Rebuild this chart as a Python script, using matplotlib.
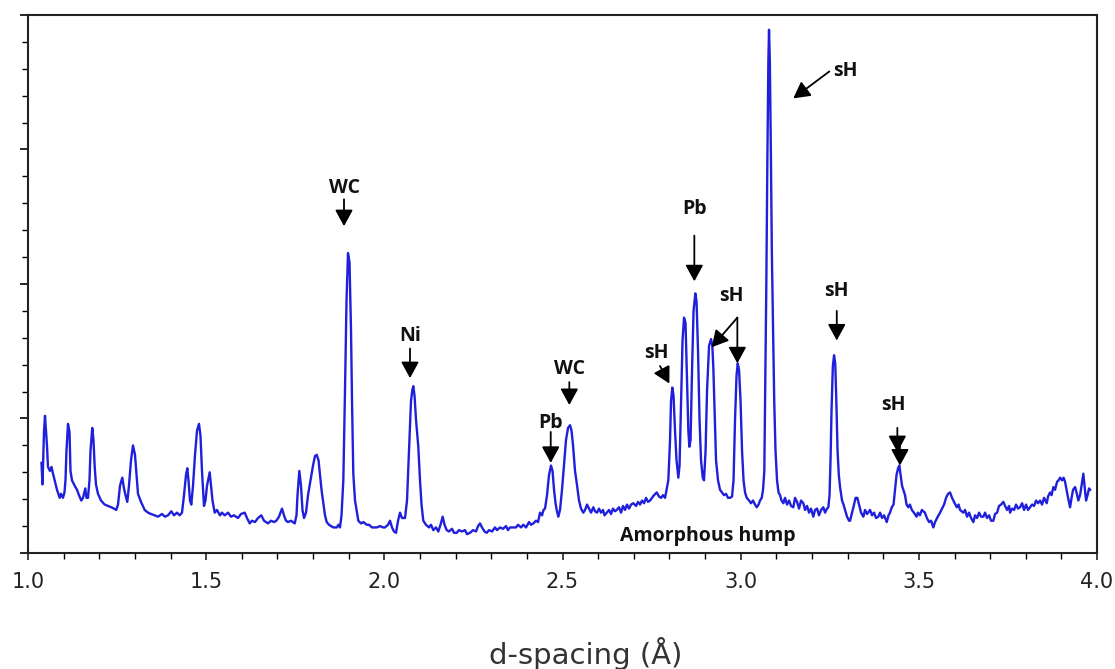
import matplotlib
matplotlib.use("Agg")
import matplotlib.pyplot as plt
from matplotlib.ticker import MultipleLocator, NullFormatter

# Diffraction pattern: d-spacing (Å) and intensity (arbitrary units)
d_spacing = [
    1.0379, 1.0407, 1.0449, 1.0477, 1.0505, 1.0533, 1.0561, 1.0617, 1.0660, 1.0702,
    1.0758, 1.0814, 1.0890, 1.0926, 1.0982, 1.1024, 1.1052, 1.1080, 1.1123, 1.1165,
    1.1193, 1.1235, 1.1311, 1.1375, 1.1431, 1.1496, 1.1544, 1.1608, 1.1642, 1.1684,
    1.1726, 1.1754, 1.1804, 1.1838, 1.1872, 1.1908, 1.1964, 1.2049, 1.2152, 1.2245,
    1.2338, 1.2413, 1.2478, 1.2526, 1.2582, 1.2646, 1.2694, 1.2736, 1.2787, 1.2834,
    1.2891, 1.2947, 1.3003, 1.3045, 1.3087, 1.3171, 1.3275, 1.3368, 1.3452, 1.3556,
    1.3648, 1.3761, 1.3845, 1.3929, 1.4022, 1.4097, 1.4182, 1.4257, 1.4322, 1.4378,
    1.4434, 1.4471, 1.4504, 1.4546, 1.4583, 1.4631, 1.4687, 1.4743, 1.4799, 1.4841,
    1.4883, 1.4939, 1.4981, 1.5023, 1.5099, 1.5136, 1.5178, 1.5240, 1.5304, 1.5388,
    1.5444, 1.5520, 1.5613, 1.5697, 1.5781, 1.5893, 1.5978, 1.6081, 1.6146, 1.6222,
    1.6286, 1.6371, 1.6455, 1.6547, 1.6623, 1.6735, 1.6820, 1.6904, 1.6968, 1.7044,
    1.7128, 1.7184, 1.7241, 1.7297, 1.7381, 1.7485, 1.7535, 1.7563, 1.7614, 1.7661,
    1.7703, 1.7746, 1.7802, 1.7858, 1.7942, 1.7998, 1.8054, 1.8102, 1.8153, 1.8195,
    1.8237, 1.8287, 1.8335, 1.8383, 1.8447, 1.8503, 1.8573, 1.8663, 1.8714, 1.8756,
    1.8798, 1.8849, 1.8896, 1.8938, 1.8980, 1.9023, 1.9065, 1.9093, 1.9129, 1.9177,
    1.9270, 1.9345, 1.9415, 1.9505, 1.9570, 1.9654, 1.9786, 1.9879, 1.9963, 2.0019,
    2.0103, 2.0159, 2.0215, 2.0271, 2.0328, 2.0384, 2.0440, 2.0496, 2.0580, 2.0636,
    2.0692, 2.0748, 2.0785, 2.0813, 2.0847, 2.0889, 2.0953, 2.1001, 2.1043, 2.1093,
    2.1169, 2.1254, 2.1310, 2.1374, 2.1450, 2.1515, 2.1576, 2.1638, 2.1689, 2.1750,
    2.1815, 2.1899, 2.1955, 2.2031, 2.2096, 2.2180, 2.2264, 2.2320, 2.2404, 2.2488,
    2.2573, 2.2629, 2.2685, 2.2741, 2.2811, 2.2873, 2.2938, 2.3022, 2.3106, 2.3162,
    2.3246, 2.3330, 2.3415, 2.3471, 2.3527, 2.3611, 2.3695, 2.3751, 2.3836, 2.3900,
    2.3976, 2.4060, 2.4116, 2.4181, 2.4257, 2.4313, 2.4369, 2.4425, 2.4467, 2.4509,
    2.4565, 2.4621, 2.4677, 2.4720, 2.4762, 2.4804, 2.4837, 2.4882, 2.4930, 2.4986,
    2.5042, 2.5098, 2.5155, 2.5211, 2.5253, 2.5295, 2.5351, 2.5399, 2.5463, 2.5519,
    2.5584, 2.5632, 2.5688, 2.5744, 2.5800, 2.5864, 2.5912, 2.5968, 2.6024, 2.6080,
    2.6137, 2.6179, 2.6241, 2.6305, 2.6361, 2.6417, 2.6473, 2.6521, 2.6586, 2.6642,
    2.6698, 2.6754, 2.6810, 2.6866, 2.6922, 2.6987, 2.7063, 2.7119, 2.7175, 2.7231,
    2.7287, 2.7344, 2.7400, 2.7456, 2.7512, 2.7568, 2.7644, 2.7708, 2.7764, 2.7820,
    2.7877, 2.7919, 2.7969, 2.8017, 2.8045, 2.8081, 2.8115, 2.8157, 2.8199, 2.8250,
    2.8284, 2.8326, 2.8368, 2.8410, 2.8452, 2.8494, 2.8531, 2.8559, 2.8593, 2.8635,
    2.8677, 2.8727, 2.8761, 2.8803, 2.8845, 2.8887, 2.8935, 2.8971, 2.9014, 2.9056,
    2.9112, 2.9168, 2.9204, 2.9232, 2.9266, 2.9308, 2.9364, 2.9420, 2.9476, 2.9532,
    2.9588, 2.9645, 2.9701, 2.9757, 2.9799, 2.9841, 2.9883, 2.9917, 2.9954, 2.9996,
    3.0038, 3.0080, 3.0122, 3.0170, 3.0234, 3.0290, 3.0346, 3.0403, 3.0450, 3.0501,
    3.0543, 3.0590, 3.0627, 3.0663, 3.0691, 3.0720, 3.0748, 3.0776, 3.0795, 3.0818,
    3.0846, 3.0874, 3.0908, 3.0941, 3.0977, 3.1020, 3.1062, 3.1104, 3.1146, 3.1197,
    3.1244, 3.1301, 3.1357, 3.1413, 3.1477, 3.1525, 3.1581, 3.1637, 3.1693, 3.1758,
    3.1806, 3.1862, 3.1918, 3.1974, 3.2038, 3.2086, 3.2142, 3.2198, 3.2255, 3.2319,
    3.2367, 3.2423, 3.2460, 3.2493, 3.2521, 3.2549, 3.2586, 3.2620, 3.2653, 3.2684,
    3.2718, 3.2754, 3.2788, 3.2844, 3.2886, 3.2928, 3.2984, 3.3041, 3.3069, 3.3125,
    3.3181, 3.3223, 3.3273, 3.3321, 3.3377, 3.3442, 3.3489, 3.3546, 3.3630, 3.3686,
    3.3742, 3.3798, 3.3863, 3.3911, 3.3967, 3.4023, 3.4098, 3.4149, 3.4191, 3.4239,
    3.4289, 3.4331, 3.4373, 3.4416, 3.4452, 3.4486, 3.4528, 3.4564, 3.4612, 3.4654,
    3.4705, 3.4747, 3.4803, 3.4860, 3.4935, 3.4972, 3.5028, 3.5084, 3.5169, 3.5225,
    3.5286, 3.5342, 3.5406, 3.5454, 3.5510, 3.5594, 3.5650, 3.5707, 3.5763, 3.5819,
    3.5875, 3.5931, 3.5987, 3.6063, 3.6114, 3.6156, 3.6248, 3.6296, 3.6352, 3.6408,
    3.6464, 3.6529, 3.6577, 3.6633, 3.6689, 3.6745, 3.6810, 3.6857, 3.6913, 3.6970,
    3.7026, 3.7090, 3.7138, 3.7194, 3.7250, 3.7306, 3.7371, 3.7419, 3.7475, 3.7531,
    3.7559, 3.7615, 3.7671, 3.7727, 3.7783, 3.7839, 3.7896, 3.7952, 3.8008, 3.8064,
    3.8120, 3.8176, 3.8232, 3.8289, 3.8345, 3.8401, 3.8457, 3.8513, 3.8589, 3.8625,
    3.8681, 3.8723, 3.8774, 3.8822, 3.8878, 3.8920, 3.8962, 3.9018, 3.9060, 3.9102,
    3.9144, 3.9187, 3.9243, 3.9285, 3.9327, 3.9383, 3.9425, 3.9475, 3.9523, 3.9565,
    3.9615, 3.9649, 3.9691, 3.9733, 3.9776, 3.9804,
]

intensity = [
    67, 51, 90, 102, 91, 80, 64, 61, 64, 59,
    53, 47, 41, 44, 41, 45, 54, 76, 96, 90,
    61, 54, 50, 47, 43, 39, 41, 48, 41, 41,
    54, 76, 93, 84, 64, 51, 44, 39, 36, 35,
    34, 33, 32, 36, 50, 56, 48, 43, 38, 50,
    69, 80, 73, 58, 44, 38, 32, 30, 29, 28,
    27, 29, 27, 28, 31, 28, 30, 28, 30, 43,
    58, 63, 54, 39, 36, 50, 73, 91, 96, 87,
    61, 35, 39, 50, 60, 50, 39, 30, 32, 28,
    30, 28, 30, 27, 28, 26, 29, 30, 26, 22,
    24, 23, 26, 28, 24, 22, 24, 23, 24, 27,
    33, 28, 24, 23, 24, 22, 28, 43, 61, 50,
    32, 26, 30, 43, 56, 65, 72, 73, 69, 58,
    47, 37, 28, 23, 21, 20, 19, 19, 21, 19,
    28, 54, 121, 187, 223, 216, 165, 113, 59, 39,
    24, 22, 23, 21, 21, 19, 19, 20, 19, 19,
    21, 24, 19, 16, 15, 24, 30, 26, 26, 39,
    76, 113, 121, 124, 117, 99, 79, 54, 36, 24,
    21, 19, 21, 17, 19, 16, 21, 27, 21, 17,
    16, 18, 15, 15, 17, 16, 17, 14, 15, 17,
    16, 20, 22, 19, 16, 15, 17, 16, 19, 17,
    19, 18, 20, 17, 19, 19, 19, 21, 19, 21,
    19, 23, 21, 22, 24, 23, 30, 28, 32, 33,
    43, 58, 65, 61, 47, 37, 32, 27, 32, 47,
    65, 84, 93, 95, 91, 80, 61, 52, 39, 33,
    30, 32, 36, 33, 30, 34, 31, 30, 33, 30,
    32, 28, 30, 32, 29, 33, 31, 32, 34, 30,
    35, 32, 36, 33, 36, 37, 35, 38, 36, 39,
    37, 41, 38, 39, 41, 43, 45, 42, 41, 43,
    41, 47, 54, 84, 113, 123, 117, 91, 69, 56,
    65, 113, 158, 175, 171, 128, 91, 79, 84, 136,
    180, 193, 187, 150, 99, 69, 56, 54, 76, 121,
    154, 159, 154, 138, 106, 69, 54, 47, 45, 43,
    44, 41, 41, 42, 54, 99, 132, 141, 136, 113,
    76, 54, 45, 41, 39, 37, 39, 36, 34, 36,
    39, 41, 47, 61, 128, 202, 291, 365, 389, 365,
    299, 224, 165, 113, 76, 54, 45, 43, 39, 37,
    41, 36, 39, 35, 34, 41, 38, 33, 39, 37,
    32, 35, 30, 33, 27, 32, 33, 28, 32, 34,
    30, 33, 34, 43, 69, 106, 139, 147, 141, 113,
    76, 58, 49, 39, 36, 32, 27, 24, 24, 30,
    36, 41, 41, 36, 30, 27, 32, 29, 32, 28,
    30, 26, 27, 30, 26, 28, 23, 28, 30, 34,
    36, 47, 58, 63, 65, 58, 50, 47, 43, 36,
    34, 36, 32, 30, 27, 30, 28, 32, 30, 26,
    23, 24, 19, 23, 26, 30, 33, 36, 41, 44,
    45, 41, 38, 34, 36, 32, 30, 32, 27, 30,
    26, 23, 28, 26, 30, 27, 27, 30, 26, 28,
    24, 24, 29, 30, 35, 36, 38, 35, 32, 35,
    30, 33, 32, 36, 33, 34, 37, 32, 36, 32,
    34, 36, 35, 39, 37, 39, 36, 41, 37, 42,
    45, 43, 49, 47, 53, 54, 56, 54, 56, 53,
    47, 41, 34, 41, 47, 49, 45, 39, 43, 50,
    59, 50, 39, 43, 48, 47,
]

# Tick positions on the d-spacing axis
x_major_ticks = [1.0, 1.5, 2.0, 2.5, 3.0, 3.5, 4.0]
x_tick_labels = ["1.0", "1.5", "2.0", "2.5", "3.0", "3.5", "4.0"]

# Phase labels: (text, text position, [(arrow tail, arrow tip), ...])
phase_labels = [
    ("WC", (1.8868, 271), [((1.8868, 263), (1.8868, 243))]),
    ("Ni", (2.0720, 161), [((2.0720, 152), (2.0720, 130))]),
    ("Pb", (2.4669, 97), [((2.4669, 90), (2.4669, 67))]),
    ("WC", (2.5191, 137), [((2.5191, 127), (2.5191, 110))]),
    ("sH", (2.7624, 149), [((2.7736, 139), (2.7998, 126))]),
    ("Pb", (2.8699, 256), [((2.8699, 236), (2.8699, 202))]),
    ("sH", (2.9749, 191), [((2.9906, 175), (2.9187, 153)),
                           ((2.9906, 175), (2.9906, 141))]),
    ("sH", (3.2928, 358), [((3.2487, 358), (3.1477, 338))]),
    ("sH", (3.2696, 195), [((3.2696, 180), (3.2696, 158))]),
    ("sH", (3.4284, 110), [((3.4396, 93), (3.4396, 75)),
                           ((3.4469, 80), (3.4469, 65))]),
]
hump_label = ("Amorphous hump", (2.9069, 13))

fig = plt.figure(figsize=(11.15, 6.69), dpi=100)
ax = fig.add_axes([0.0251, 0.1734, 0.9588, 0.8042])

ax.plot(d_spacing, intensity, color="#1f1fdc", lw=1.7, solid_joinstyle="round")

ax.set_xlim(1.0, 4.0)
ax.set_ylim(0, 400)

ax.set_xticks(x_major_ticks)
ax.set_xticklabels(x_tick_labels)
ax.xaxis.set_minor_locator(MultipleLocator(0.1))
ax.yaxis.set_major_locator(MultipleLocator(100))
ax.yaxis.set_minor_locator(MultipleLocator(20))
ax.yaxis.set_major_formatter(NullFormatter())

ax.tick_params(axis="x", which="major", direction="out", length=5, width=1.2,
               labelsize=15, colors="#222222", pad=9)
ax.tick_params(axis="x", which="minor", direction="out", length=4, width=1.0)
ax.tick_params(axis="y", which="major", direction="out", length=6, width=1.2)
ax.tick_params(axis="y", which="minor", direction="out", length=4, width=1.0)
ax.tick_params(top=False, right=False, which="both")

for side in ax.spines.values():
    side.set_linewidth(1.5)
    side.set_color("#222222")

ax.set_xlabel("d-spacing (Å)", fontsize=21, color="#333333")
ax.xaxis.set_label_coords(0.522, -0.186)
ax.xaxis.label.set_va("center")

label_font = dict(fontsize=14, fontweight="bold", color="#111111",
                  family=["Open Sans", "DejaVu Sans"], ha="center", va="center")
arrow_style = dict(arrowstyle="-|>,head_length=0.55,head_width=0.3",
                   mutation_scale=18, lw=1.3, color="black",
                   shrinkA=0, shrinkB=0)

for text, (tx, ty), arrows in phase_labels:
    ax.text(tx, ty, text, **label_font)
    for (x0, y0), (x1, y1) in arrows:
        ax.annotate("", xy=(x1, y1), xytext=(x0, y0), arrowprops=arrow_style)

ax.text(hump_label[1][0], hump_label[1][1], hump_label[0], **label_font)

fig.savefig("out.png", dpi=100, facecolor="white")
